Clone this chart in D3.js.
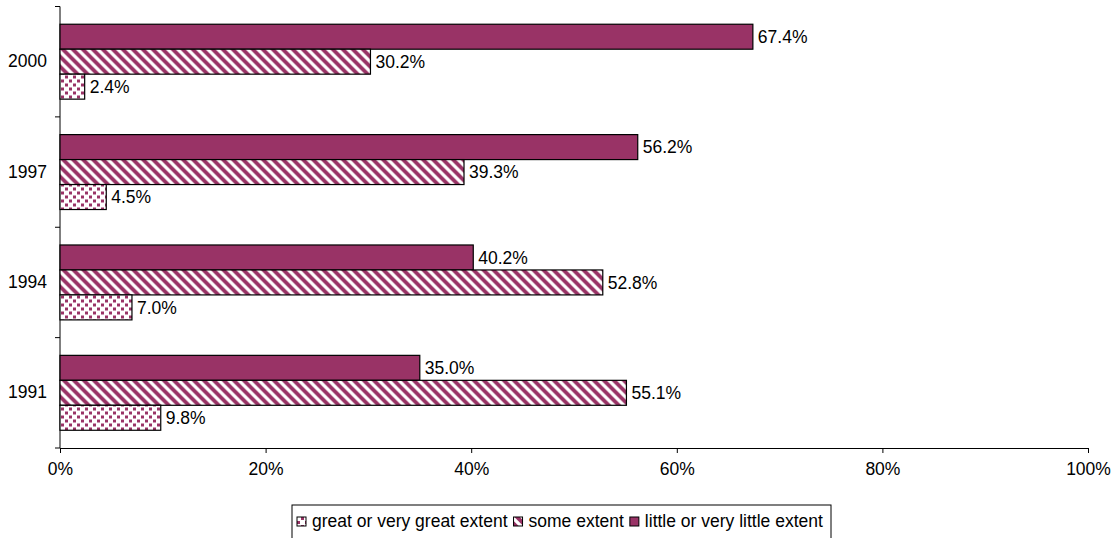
<!DOCTYPE html>
<html>
<head>
<meta charset="utf-8">
<script src="https://cdn.jsdelivr.net/npm/d3@7"></script>
<style>
  body { margin: 0; background: #fff; }
  text { font-family: "Liberation Sans", Arial, sans-serif; fill: #000; }
</style>
</head>
<body>
<div id="chart"></div>
<script>
// chart data
const years = ["2000", "1997", "1994", "1991"];
const seriesNames = ["little or very little extent", "some extent", "great or very great extent"];
const little = [67.4, 56.2, 40.2, 35.0];
const some = [30.2, 39.3, 52.8, 55.1];
const great = [2.4, 4.5, 7.0, 9.8];
const xTicks = [0, 20, 40, 60, 80, 100];
const legendOrder = ["great or very great extent", "some extent", "little or very little extent"];

const seriesValues = {
    "little or very little extent": little,
    "some extent": some,
    "great or very great extent": great
};

const width = 1115;
const height = 538;
const margin = {top: 6.5, right: 27, bottom: 90, left: 60};
const innerWidth = width - margin.left - margin.right;
const innerHeight = height - margin.top - margin.bottom;
const purple = "#993366";
const fontSize = "17.5px";

const svg = d3.select("#chart")
    .append("svg")
    .attr("width", width)
    .attr("height", height);

// patterns for the fills
const defs = svg.append("defs");

const stripes = defs.append("pattern")
    .attr("id", "stripes")
    .attr("patternUnits", "userSpaceOnUse")
    .attr("width", 10)
    .attr("height", 10);
stripes.append("rect").attr("width", 10).attr("height", 10).attr("fill", "#fff");
stripes.append("path")
    .attr("d", "M-5,5 L5,15 M0,0 L10,10 M5,-5 L15,5")
    .attr("stroke", purple)
    .attr("stroke-width", 3.8);

const dots = defs.append("pattern")
    .attr("id", "dots")
    .attr("patternUnits", "userSpaceOnUse")
    .attr("width", 8)
    .attr("height", 8);
dots.append("rect").attr("width", 8).attr("height", 8).attr("fill", "#fff");
dots.append("rect").attr("x", 1).attr("y", 1).attr("width", 3).attr("height", 3).attr("fill", purple);
dots.append("rect").attr("x", 5).attr("y", 5).attr("width", 3).attr("height", 3).attr("fill", purple);

const fills = {
    "little or very little extent": purple,
    "some extent": "url(#stripes)",
    "great or very great extent": "url(#dots)"
};

const g = svg.append("g")
    .attr("transform", `translate(${margin.left},${margin.top})`);

// scales
const xScale = d3.scaleLinear()
    .domain([0, 100])
    .range([0, innerWidth]);

const yScale = d3.scaleBand()
    .domain(years)
    .range([0, innerHeight]);

const ySub = d3.scaleBand()
    .domain(seriesNames)
    .range([0, yScale.bandwidth()])
    .paddingInner(0)
    .paddingOuter(0.71);

// x axis
const xAxis = d3.axisBottom(xScale)
    .tickValues(xTicks)
    .tickFormat(d => d + "%")
    .tickSize(5)
    .tickPadding(10);

g.append("g")
    .attr("class", "x-axis")
    .attr("transform", `translate(0,${innerHeight})`)
    .call(xAxis)
    .call(s => s.selectAll("text").style("font-size", fontSize).attr("font-family", null))
    .call(s => s.selectAll("line, path").attr("stroke", "#000"));

// y axis: ticks at the category edges
const yAxis = d3.axisLeft(yScale).tickSize(0).tickPadding(13);
g.append("g")
    .attr("class", "y-axis")
    .call(yAxis)
    .call(s => s.select(".domain").attr("d", `M0,0 V${innerHeight}`).attr("stroke", "#000"))
    .call(s => s.selectAll("text").style("font-size", fontSize).attr("font-family", null));

g.append("g")
    .selectAll("line")
    .data(d3.range(years.length + 1))
    .enter()
    .append("line")
    .attr("x1", -5)
    .attr("x2", 0)
    .attr("y1", i => i * yScale.step())
    .attr("y2", i => i * yScale.step())
    .attr("stroke", "#000");

// bars
const rows = [];
years.forEach((year, i) => {
    seriesNames.forEach(name => {
        rows.push({year: year, series: name, value: seriesValues[name][i]});
    });
});

g.selectAll(".bar")
    .data(rows)
    .enter()
    .append("rect")
    .attr("class", "bar")
    .attr("x", xScale(0))
    .attr("y", d => yScale(d.year) + ySub(d.series))
    .attr("width", d => xScale(d.value) - xScale(0))
    .attr("height", ySub.bandwidth())
    .attr("fill", d => fills[d.series])
    .attr("stroke", "#000")
    .attr("stroke-width", 1.2);

// value labels
g.selectAll(".label")
    .data(rows)
    .enter()
    .append("text")
    .attr("class", "label")
    .attr("x", d => xScale(d.value) + 5)
    .attr("y", d => yScale(d.year) + ySub(d.series) + ySub.bandwidth() / 2)
    .attr("dy", "0.36em")
    .style("font-size", fontSize)
    .text(d => d.value.toFixed(1) + "%");

// legend
const legend = svg.append("g").attr("class", "legend");
legend.append("rect")
    .attr("x", 292)
    .attr("y", 505)
    .attr("width", 539)
    .attr("height", 40)
    .attr("fill", "#fff")
    .attr("stroke", "#000");

let lx = 297;
legendOrder.forEach(name => {
    legend.append("rect")
        .attr("x", lx)
        .attr("y", 517)
        .attr("width", 9)
        .attr("height", 9)
        .attr("fill", fills[name])
        .attr("stroke", "#000");
    const t = legend.append("text")
        .attr("x", lx + 15)
        .attr("y", 527)
        .style("font-size", fontSize)
        .text(name);
    lx += 15 + t.node().getComputedTextLength() + 6;
});
</script>
</body>
</html>
